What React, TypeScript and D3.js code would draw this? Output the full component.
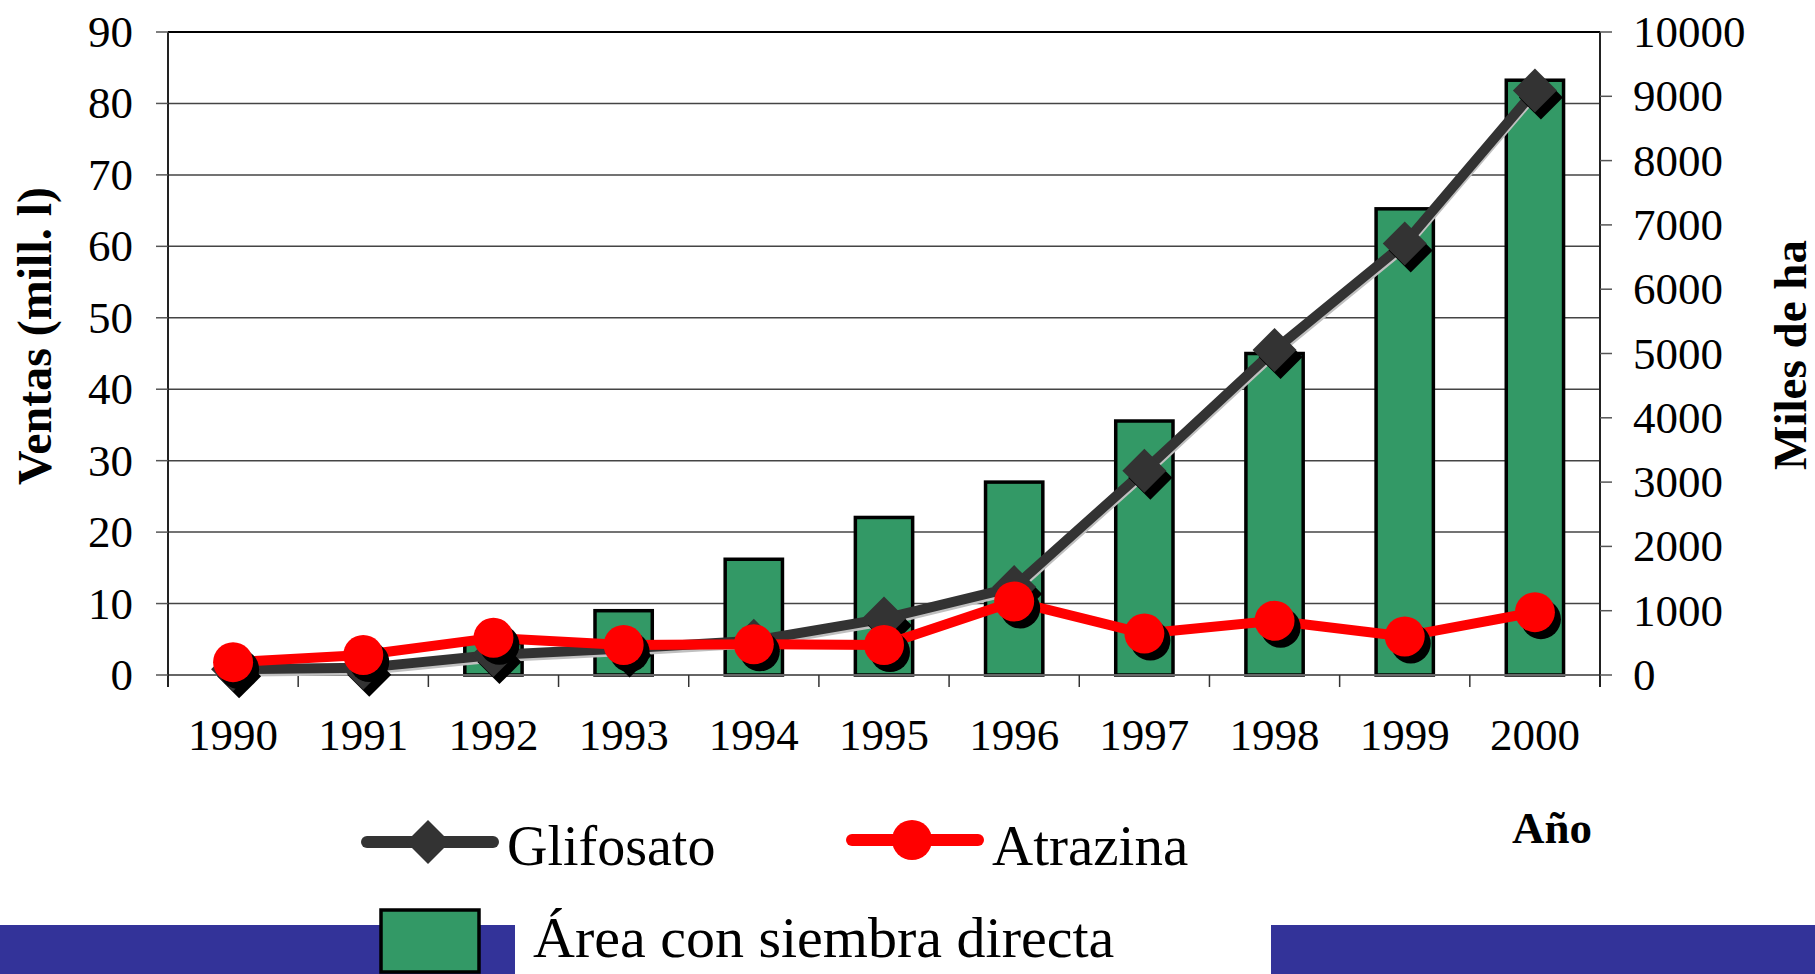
import React, { useEffect, useRef } from "react";
import * as d3 from "d3";

const width = 1815;
const height = 974;
const margin = { top: 32, right: 215, bottom: 299, left: 168 };

const years = ["1990", "1991", "1992", "1993", "1994", "1995", "1996", "1997", "1998", "1999", "2000"];
// ventas, mill. l (eje izquierdo)
const glifosato = [0.8, 1.0, 2.8, 3.7, 4.8, 7.9, 12.3, 28.6, 45.5, 60.4, 81.8];
const atrazina = [1.8, 2.8, 5.2, 4.2, 4.3, 4.2, 10.3, 5.8, 7.6, 5.4, 8.8];
// miles de ha (eje derecho)
const area = [0, 0, 500, 1000, 1800, 2450, 3000, 3950, 5000, 7250, 9250];

const leftTicks = [0, 10, 20, 30, 40, 50, 60, 70, 80, 90];
const rightTicks = [0, 1000, 2000, 3000, 4000, 5000, 6000, 7000, 8000, 9000, 10000];

const font = "'Liberation Serif', 'Times New Roman', serif";
const green = "#339966";
const dark = "#333333";
const red = "#ff0000";
const band = "#333399";

const x0 = margin.left;
const x1 = width - margin.right;
const y0 = height - margin.bottom;
const y1 = margin.top;

const xScale = d3.scaleBand<string>().domain(years).range([x0, x1]).padding(0);
const yLeft = d3.scaleLinear().domain([0, 90]).range([y0, y1]);
const yRight = d3.scaleLinear().domain([0, 10000]).range([y0, y1]);

const diamond = (cx: number, cy: number, r: number) =>
  `M${cx},${cy - r}L${cx + r},${cy}L${cx},${cy + r}L${cx - r},${cy}Z`;

export default function App() {
  const ref = useRef<SVGSVGElement>(null);

  useEffect(() => {
    const svg = d3.select(ref.current);
    svg.selectAll("*").remove();
    const bw = xScale.bandwidth();
    const cx = (d: string) => (xScale(d) as number) + bw / 2;

    // gridlines
    svg
      .append("g")
      .selectAll("line")
      .data(leftTicks.filter((t) => t > 0))
      .join("line")
      .attr("x1", x0)
      .attr("x2", x1)
      .attr("y1", (d) => yLeft(d))
      .attr("y2", (d) => yLeft(d))
      .attr("stroke", (d) => (d === 90 ? "#000" : "#444"))
      .attr("stroke-width", (d) => (d === 90 ? 2 : 1.5));

    // bars
    const barW = bw * 0.44;
    svg
      .append("g")
      .selectAll("rect")
      .data(years.map((y, i) => ({ y, v: area[i] })).filter((d) => d.v > 0))
      .join("rect")
      .attr("x", (d) => cx(d.y) - barW / 2)
      .attr("y", (d) => yRight(d.v))
      .attr("width", barW)
      .attr("height", (d) => y0 - yRight(d.v))
      .attr("fill", green)
      .attr("stroke", "#000")
      .attr("stroke-width", 3.5);

    // axes
    const ax = svg.append("g");
    ax.append("line").attr("x1", x0).attr("x2", x1).attr("y1", y0).attr("y2", y0).attr("stroke", "#666").attr("stroke-width", 2);
    ax.append("line").attr("x1", x0).attr("x2", x0).attr("y1", y1).attr("y2", y0 + 12).attr("stroke", "#222").attr("stroke-width", 2);
    ax.append("line").attr("x1", x1).attr("x2", x1).attr("y1", y1).attr("y2", y0 + 12).attr("stroke", "#222").attr("stroke-width", 2);

    ax.append("g")
      .selectAll("line")
      .data(years.slice(1))
      .join("line")
      .attr("x1", (d) => xScale(d) as number)
      .attr("x2", (d) => xScale(d) as number)
      .attr("y1", y0)
      .attr("y2", y0 + 12)
      .attr("stroke", "#333")
      .attr("stroke-width", 1.5);

    ax.append("g")
      .selectAll("line")
      .data(leftTicks)
      .join("line")
      .attr("x1", x0 - 12)
      .attr("x2", x0)
      .attr("y1", (d) => yLeft(d))
      .attr("y2", (d) => yLeft(d))
      .attr("stroke", "#555")
      .attr("stroke-width", 1.5);

    ax.append("g")
      .selectAll("line")
      .data(rightTicks)
      .join("line")
      .attr("x1", x1)
      .attr("x2", x1 + 12)
      .attr("y1", (d) => yRight(d))
      .attr("y2", (d) => yRight(d))
      .attr("stroke", "#555")
      .attr("stroke-width", 1.5);

    const txt = svg.append("g").attr("font-family", font).attr("fill", "#000");
    txt.append("g")
      .selectAll("text")
      .data(leftTicks)
      .join("text")
      .attr("x", 133)
      .attr("y", (d) => yLeft(d) + 15)
      .attr("text-anchor", "end")
      .attr("font-size", 45)
      .text((d) => d);
    txt.append("g")
      .selectAll("text")
      .data(rightTicks)
      .join("text")
      .attr("x", 1633)
      .attr("y", (d) => yRight(d) + 15)
      .attr("font-size", 45)
      .text((d) => d);
    txt.append("g")
      .selectAll("text")
      .data(years)
      .join("text")
      .attr("x", (d) => cx(d))
      .attr("y", 750)
      .attr("text-anchor", "middle")
      .attr("font-size", 45)
      .text((d) => d);

    txt.append("text")
      .attr("transform", "translate(51,336) rotate(-90)")
      .attr("text-anchor", "middle")
      .attr("font-size", 48)
      .attr("font-weight", "bold")
      .text("Ventas (mill. l)");
    txt.append("text")
      .attr("transform", "translate(1806,355) rotate(-90)")
      .attr("text-anchor", "middle")
      .attr("font-size", 47)
      .attr("font-weight", "bold")
      .text("Miles de ha");

    // lines
    const line = (vals: number[]) =>
      d3.line<number>().x((_, i) => cx(years[i])).y((v) => yLeft(v))(vals) as string;

    const drawSeries = (vals: number[], color: string, kind: "diamond" | "circle") => {
      const g = svg.append("g");
      if (kind === "diamond") {
        g.append("path")
          .attr("d", line(vals))
          .attr("transform", "translate(1,4)")
          .attr("fill", "none")
          .attr("stroke", "#c0c0c0")
          .attr("stroke-width", 7);
      }
      g.append("path")
        .attr("d", line(vals))
        .attr("fill", "none")
        .attr("stroke", color)
        .attr("stroke-width", 10)
        .attr("stroke-linejoin", "round");
      const pts = vals.map((v, i) => ({ x: cx(years[i]), y: yLeft(v) }));
      if (kind === "diamond") {
        g.append("g").selectAll("path").data(pts).join("path")
          .attr("d", (p) => diamond(p.x + 6, p.y + 7, 22)).attr("fill", "#000");
        g.append("g").selectAll("path").data(pts).join("path")
          .attr("d", (p) => diamond(p.x, p.y, 22)).attr("fill", color);
      } else {
        g.append("g").selectAll("circle").data(pts).join("circle")
          .attr("cx", (p) => p.x + 6).attr("cy", (p) => p.y + 7).attr("r", 20).attr("fill", "#000");
        g.append("g").selectAll("circle").data(pts).join("circle")
          .attr("cx", (p) => p.x).attr("cy", (p) => p.y).attr("r", 20).attr("fill", color);
      }
    };
    drawSeries(glifosato, dark, "diamond");
    drawSeries(atrazina, red, "circle");

    // legend
    const lg = svg.append("g").attr("font-family", font);
    lg.append("rect").attr("x", 0).attr("y", 925).attr("width", 515).attr("height", 49).attr("fill", band);
    lg.append("rect").attr("x", 1271).attr("y", 925).attr("width", 544).attr("height", 49).attr("fill", band);

    lg.append("line").attr("x1", 367).attr("x2", 493).attr("y1", 842).attr("y2", 842)
      .attr("stroke", dark).attr("stroke-width", 12).attr("stroke-linecap", "round");
    lg.append("path").attr("d", diamond(428, 842, 22)).attr("fill", dark);
    lg.append("text").attr("x", 507).attr("y", 865).attr("font-size", 56).text("Glifosato");

    lg.append("line").attr("x1", 852).attr("x2", 978).attr("y1", 840).attr("y2", 840)
      .attr("stroke", red).attr("stroke-width", 12).attr("stroke-linecap", "round");
    lg.append("circle").attr("cx", 912).attr("cy", 840).attr("r", 20).attr("fill", red);
    lg.append("text").attr("x", 992).attr("y", 865).attr("font-size", 57).text("Atrazina");

    lg.append("text").attr("x", 1512).attr("y", 843).attr("font-size", 45).attr("font-weight", "bold").text("Año");

    lg.append("rect").attr("x", 381).attr("y", 910).attr("width", 98).attr("height", 62)
      .attr("fill", green).attr("stroke", "#000").attr("stroke-width", 3.5);
    lg.append("text").attr("x", 533).attr("y", 957).attr("font-size", 58).text("Área con siembra directa");
  }, []);

  return (
    <svg
      ref={ref}
      width={width}
      height={height}
      style={{ position: "absolute", left: 0, top: 0, display: "block", background: "#fff" }}
    />
  );
}
